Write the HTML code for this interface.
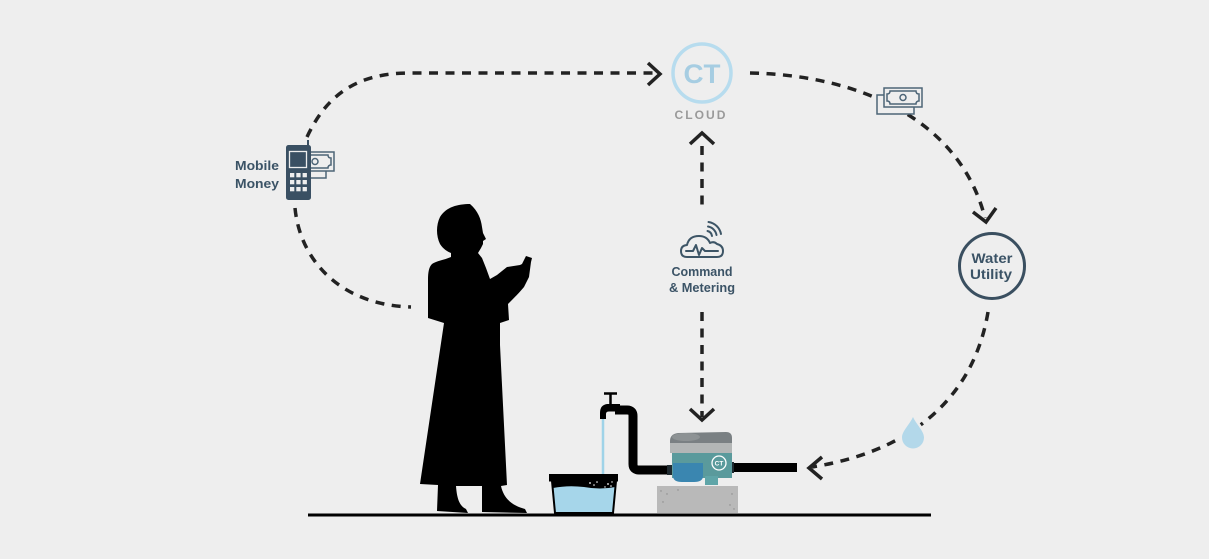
<!DOCTYPE html>
<html>
<head>
<meta charset="utf-8">
<style>
  html,body{margin:0;padding:0;background:#eeeeee;}
  svg{display:block;}
  text{font-family:"Liberation Sans","DejaVu Sans",sans-serif;}
</style>
</head>
<body>
<svg width="1209" height="559" viewBox="0 0 1209 559" xmlns="http://www.w3.org/2000/svg">
  <rect width="1209" height="559" fill="#eeeeee"/>

  <!-- dashed connectors -->
  <g fill="none" stroke="#222" stroke-width="3.5" stroke-dasharray="9 7.5">
    <path d="M 307 137 C 328 92, 360 73, 410 73 L 656 73"/>
    <path d="M 750 73 C 860 75, 960 120, 985 218"/>
    <path d="M 295 208 C 300 260, 340 305, 411 307"/>
    <path d="M 988 312 C 975 390, 920 450, 812 467"/>
    <path d="M 702 146 L 702 210"/>
    <path d="M 702 312 L 702 417"/>
  </g>
  <!-- arrowheads -->
  <g fill="none" stroke="#222" stroke-width="3.5" stroke-linejoin="miter">
    <path d="M 648 63 L 660 74 L 648 85"/>
    <path d="M 973 212 L 986 222 L 996 208"/>
    <path d="M 822 457 L 809 468 L 822 479"/>
    <path d="M 690 144 L 702 133 L 714 144"/>
    <path d="M 690 409 L 702 420 L 714 409"/>
  </g>

  <!-- CT cloud -->
  <circle cx="702" cy="73" r="29" fill="#eeeeee" stroke="#b7dcee" stroke-width="3.5"/>
  <text x="702" y="83" text-anchor="middle" font-size="27" font-weight="bold" fill="#a6cde2" textLength="37" lengthAdjust="spacingAndGlyphs">CT</text>
  <text x="701" y="119" text-anchor="middle" font-size="12" font-weight="bold" fill="#9a9a9a" letter-spacing="2" textLength="53" lengthAdjust="spacingAndGlyphs">CLOUD</text>

  <!-- money icon right -->
  <g transform="translate(884,88)" fill="#eeeeee" stroke="#4d6577" stroke-width="1.5">
    <rect x="-7" y="7" width="37" height="19" fill="#eeeeee"/>
    <rect x="0" y="0" width="38" height="19"/>
    <path d="M 6 3 L 32 3 Q 32 6 35 6 L 35 13 Q 32 13 32 16 L 6 16 Q 6 13 3 13 L 3 6 Q 6 6 6 3 Z"/>
    <circle cx="19" cy="9.5" r="3"/>
  </g>

  <!-- Mobile money -->
  <g transform="translate(296,152)" fill="#eeeeee" stroke="#4d6577" stroke-width="1.5">
    <rect x="-7" y="7" width="37" height="19"/>
    <rect x="0" y="0" width="38" height="19"/>
    <path d="M 6 3 L 32 3 Q 32 6 35 6 L 35 13 Q 32 13 32 16 L 6 16 Q 6 13 3 13 L 3 6 Q 6 6 6 3 Z"/>
    <circle cx="19" cy="9.5" r="3"/>
  </g>
  <line x1="308" y1="140" x2="308" y2="147" stroke="#3a5063" stroke-width="2"/>
  <rect x="286" y="145" width="25" height="55" rx="2.5" fill="#3a5063"/>
  <rect x="289.5" y="151.5" width="17" height="16" fill="#3a5063" stroke="#eeeeee" stroke-width="1.3"/>
  <g fill="#eeeeee">
    <rect x="290" y="173" width="4.3" height="4.3"/><rect x="296.3" y="173" width="4.3" height="4.3"/><rect x="302.6" y="173" width="4.3" height="4.3"/>
    <rect x="290" y="180" width="4.3" height="4.3"/><rect x="296.3" y="180" width="4.3" height="4.3"/><rect x="302.6" y="180" width="4.3" height="4.3"/>
    <rect x="290" y="187" width="4.3" height="4.3"/><rect x="296.3" y="187" width="4.3" height="4.3"/><rect x="302.6" y="187" width="4.3" height="4.3"/>
  </g>
  <text x="279" y="170" text-anchor="end" font-size="13" font-weight="bold" fill="#3b5366" textLength="44" lengthAdjust="spacingAndGlyphs">Mobile</text>
  <text x="279" y="188" text-anchor="end" font-size="13" font-weight="bold" fill="#3b5366" textLength="44" lengthAdjust="spacingAndGlyphs">Money</text>

  <!-- Command & Metering icon -->
  <g fill="none" stroke="#3d5566" stroke-width="2" stroke-linecap="round" stroke-linejoin="round">
    <path d="M 687 257 Q 681 257 681 251 Q 681 245.5 687 245 Q 689 236 699 236 Q 707 236 710 243 Q 714 241 717 244 Q 723 245.5 723 251 Q 723 257 717 257 Z"/>
    <path d="M 686 251 L 693 251 L 696 245 L 699 255 L 702 248 L 705 251 L 718 251"/>
    <path d="M 707.5 231 A 6 6 0 0 1 712 236"/>
    <path d="M 708 226.5 A 10.5 10.5 0 0 1 716.5 235"/>
    <path d="M 708.5 222 A 15 15 0 0 1 721 234"/>
  </g>
  <text x="702" y="276" text-anchor="middle" font-size="12.5" font-weight="bold" fill="#3b5366" textLength="61" lengthAdjust="spacingAndGlyphs">Command</text>
  <text x="702" y="292" text-anchor="middle" font-size="12.5" font-weight="bold" fill="#3b5366" textLength="66" lengthAdjust="spacingAndGlyphs">&amp; Metering</text>

  <!-- Water utility -->
  <circle cx="992" cy="266" r="32.5" fill="#eeeeee" stroke="#3a4f60" stroke-width="3"/>
  <text x="992" y="263" text-anchor="middle" font-size="13.5" font-weight="bold" fill="#3b5366" textLength="41" lengthAdjust="spacingAndGlyphs">Water</text>
  <text x="991" y="279" text-anchor="middle" font-size="13.5" font-weight="bold" fill="#3b5366" textLength="42" lengthAdjust="spacingAndGlyphs">Utility</text>

  <!-- water drop -->
  <path d="M 913 417 C 916 424, 924 431, 924 437.5 A 11 11 0 0 1 902 437.5 C 902 431, 910 424, 913 417 Z" fill="#b3d8ea" stroke="#eeeeee" stroke-width="5" paint-order="stroke"/>

  <!-- woman silhouette -->
  <path fill="#000" d="M 470 204 C 458 204, 446 207, 440 217 C 436 225, 436 236, 440 244 C 443 249, 448 252, 451 253 L 451 257 C 444 260, 436 261, 432 264 C 429 267, 428 272, 428 280 L 428 318 L 444 323 L 420 484 L 438 485 L 437 511 L 468 513 L 466 509 C 460 506, 457 500, 456 486 L 482 486 L 482 512 L 527 513 L 525 509 C 514 506, 504 500, 501 486 L 507 485 L 500 345 L 500 323 L 509 320 L 508 304 C 514 298, 520 292, 524 287 L 529 277 L 531 262 L 532 258 L 526 256 L 522 264 L 520 265 L 507 267 L 497 275 L 490 279 L 486 268 L 482 258 L 478 253 L 481 248 L 483 244 L 483 241 L 486 239 L 483 233 L 482 227 C 481 219, 478 211, 470 204 Z"/>

  <!-- ground -->
  <line x1="308" y1="515" x2="931" y2="515" stroke="#000" stroke-width="3"/>

  <!-- faucet & pipe -->
  <path d="M 615 410 L 627 410 Q 633 410 633 416 L 633 464 Q 633 470 639 470 L 670 470" fill="none" stroke="#000" stroke-width="9" stroke-linejoin="round"/>
  <line x1="604" y1="393.5" x2="617" y2="393.5" stroke="#000" stroke-width="2.5"/>
  <line x1="610.5" y1="393" x2="610.5" y2="405" stroke="#000" stroke-width="2.5"/>
  <path d="M 620 404 L 607 404 Q 600 405 600 413 L 600 419 L 606 419 L 606 414 Q 606 411.5 609 411.5 L 620 411.5 Z" fill="#000"/>
  <line x1="603" y1="419" x2="603" y2="480" stroke="#9fd3e8" stroke-width="2.5"/>

  <!-- bucket -->
  <path d="M 552 481 L 555 513 L 613 513 L 616 481 Z" fill="#a6d6ea" stroke="#000" stroke-width="2"/>
  <path d="M 552 481 L 616 481 L 615.4 487 Q 600 490 584 487 Q 568 485 553 488 Z" fill="#000"/>
  <rect x="549" y="474" width="69" height="7.5" fill="#000"/>
  <g fill="#fff">
    <circle cx="590" cy="483" r="0.9"/><circle cx="594" cy="485" r="0.8"/><circle cx="597" cy="482" r="0.8"/>
    <circle cx="608" cy="484" r="0.9"/><circle cx="611" cy="486" r="0.8"/><circle cx="605" cy="487" r="0.7"/>
    <circle cx="612" cy="482" r="0.7"/>
  </g>

  <!-- concrete block -->
  <rect x="657" y="486" width="81" height="27" fill="#b9b9b9"/>
  <g fill="#8a8a8a">
    <circle cx="661" cy="491" r="0.7"/><circle cx="667" cy="494" r="0.7"/><circle cx="678" cy="490" r="0.7"/>
    <circle cx="663" cy="502" r="0.7"/><circle cx="732" cy="494" r="0.7"/><circle cx="730" cy="505" r="0.7"/><circle cx="734" cy="509" r="0.7"/>
  </g>

  <!-- right pipe -->
  <rect x="733" y="463" width="64" height="9" fill="#000"/>

  <!-- meter -->
  <rect x="667" y="465" width="7" height="10" fill="#1f2a30"/>
  <rect x="728" y="462" width="6" height="11" fill="#1f2a30"/>
  <path d="M 670 441 Q 670 434 678 433 L 726 432 Q 732 432 732 438 L 732 453 L 670 453 Z" fill="#7a8083"/>
  <rect x="670" y="443" width="62" height="10" fill="#b3b6b6"/>
  <ellipse cx="686" cy="437" rx="14" ry="4" fill="#8d9294"/>
  <rect x="672" y="453" width="60" height="25" fill="#5a9a9c"/>
  <rect x="705" y="476" width="13" height="9" fill="#5fa5a8"/>
  <path d="M 673 463 L 703 463 L 703 476 Q 703 482 694 482 L 682 482 Q 673 482 673 476 Z" fill="#3a86b0"/>
  <circle cx="719" cy="463" r="7" fill="none" stroke="#ffffff" stroke-width="1.3"/>
  <text x="719" y="465.5" text-anchor="middle" font-size="6.5" font-weight="bold" fill="#ffffff">CT</text>
</svg>
</body>
</html>
